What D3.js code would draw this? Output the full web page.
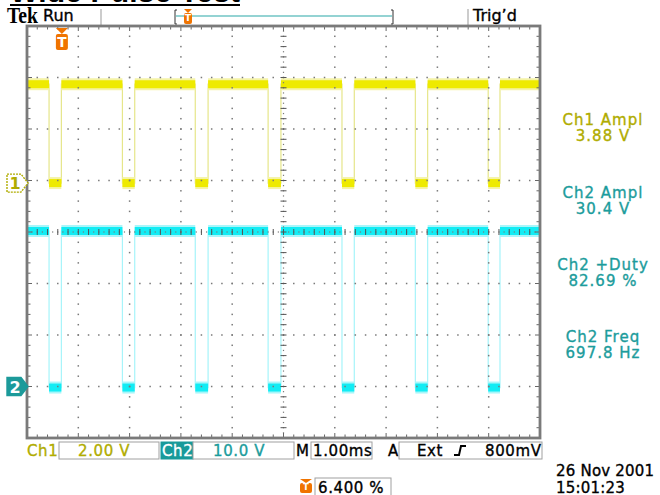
<!DOCTYPE html>
<html>
<head>
<meta charset="utf-8">
<script src="https://cdn.jsdelivr.net/npm/d3@7"></script>
<style>
	html, body { margin: 0; padding: 0; background: #fff; }
	svg { display: block; font-family: "DejaVu Sans", Verdana, sans-serif; }
	.heavy { stroke-width: 0.35px; paint-order: stroke; }
</style>
</head>
<body>
<svg id="scope" width="660" height="495"></svg>
<script>
// edge times in divisions (1.00 ms/div)
var fallTimes = [0.43, 1.86, 3.28, 4.70, 6.14, 7.57, 8.99];
var riseTimes = [0.67, 2.10, 3.53, 4.95, 6.38, 7.81, 9.22];

// channel levels (volts), scale (V/div) and ground position (div)
var ch1Levels = [0, 3.84];
var ch2Levels = [-0.2, 30.2];
var chVoltsPerDiv = [2, 10];
var chPositions = [0.95, -3.0];
var triggerTime = 0.68;

var measLabels = ["Ch1 Ampl", "Ch2 Ampl", "Ch2 +Duty", "Ch2 Freq"];
var measValues = ["3.88 V", "30.4 V", "82.69 %", "697.8 Hz"];
var measChannel = [1, 2, 2, 2];

var C1 = "#eeea00", C1_EDGE = "#e6e68a", C1_FUZZ = "#f5f3a6", C1_TEXT = "#b0ac00";
var C2 = "#12ecf4", C2_EDGE = "#a6f4fa", C2_FUZZ = "#a8f6fa", C2_TEXT = "#1c9c9c";
var ORANGE = "#f07400", GRID = "#7a7a7a";

var svg = d3.select("#scope");

var x = d3.scaleLinear().domain([0, 10]).range([27, 540]);
var y = d3.scaleLinear().domain([-4, 4]).range([438, 26]);

// text helper, with a thin stroke of the same colour so it reads as heavy as the screen font
function txt(parent, x0, y0, s, col, size) {
	return parent.append("text").attr("class", "heavy")
		.attr("x", x0).attr("y", y0)
		.attr("fill", col || "#000").attr("stroke", col || "#000")
		.style("font-size", (size || 15) + "px")
		.text(s);
}

// title, clipped by the top of the picture
svg.append("text")
	.attr("x", 10).attr("y", 2)
	.attr("textLength", 230)
	.style("font-family", "'Liberation Sans', Arial, sans-serif")
	.style("font-weight", "bold").style("font-size", "30px")
	.text("Wide Pulse Test");
svg.append("rect").attr("x", 10).attr("y", 4).attr("width", 230).attr("height", 2).attr("fill", "#000");

// header
svg.append("text").attr("x", 7).attr("y", 23).attr("textLength", 31).attr("lengthAdjust", "spacingAndGlyphs")
	.style("font-family", "'Liberation Serif', serif").style("font-weight", "bold").style("font-size", "23px")
	.text("Tek");
txt(svg, 43, 21, "Run", null, 16);
svg.append("line").attr("x1", 101).attr("x2", 101).attr("y1", 9).attr("y2", 25).attr("stroke", "#999");
svg.append("line").attr("x1", 468).attr("x2", 468).attr("y1", 9).attr("y2", 25).attr("stroke", "#999");
txt(svg, 473, 21, "Trig’d", null, 16);

// record view bracket
svg.append("line").attr("x1", 176).attr("x2", 392).attr("y1", 16).attr("y2", 16).attr("stroke", "#2aa8a8").attr("stroke-width", 1.2);
svg.append("path").attr("d", "M177,10 H175 V24 H177").attr("fill", "none").attr("stroke", "#333");
svg.append("path").attr("d", "M391,10 H393 V24 H391").attr("fill", "none").attr("stroke", "#333");
drawTriggerFlag(svg, 188, 9, 8, 15);

// traces
function levelY(v, ch) {
	return y(v / chVoltsPerDiv[ch] + chPositions[ch]);
}

function drawTrace(levels, ch, core, fuzz, edge) {
	var g = svg.append("g");
	var lo = levels[0], hi = levels[1];
	var pts = [[0, hi]];
	fallTimes.forEach(function(f, i) {
		pts.push([f, hi], [f, lo], [riseTimes[i], lo], [riseTimes[i], hi]);
	});
	pts.push([10, hi]);

	var line = d3.line()
		.x(function(d) { return x(d[0]); })
		.y(function(d) { return levelY(d[1], ch); });

	g.append("path").attr("d", line(pts))
		.attr("fill", "none").attr("stroke", edge).attr("stroke-width", 1.2);

	var segs = [];
	var starts = [0].concat(riseTimes), ends = fallTimes.concat([10]);
	starts.forEach(function(s, i) { segs.push([s, ends[i], hi]); });
	fallTimes.forEach(function(f, i) { segs.push([f, riseTimes[i], lo]); });

	[[fuzz, 12], [core, 8]].forEach(function(st) {
		g.selectAll(null).data(segs).enter().append("line")
			.attr("x1", function(d) { return x(d[0]); })
			.attr("x2", function(d) { return x(d[1]); })
			.attr("y1", function(d) { return levelY(d[2], ch); })
			.attr("y2", function(d) { return levelY(d[2], ch); })
			.attr("stroke", st[0]).attr("stroke-width", st[1]);
	});
}

drawTrace(ch1Levels, 0, C1, C1_FUZZ, C1_EDGE);
drawTrace(ch2Levels, 1, C2, C2_FUZZ, C2_EDGE);

// graticule
var grid = svg.append("g");
var fine = d3.range(0, 10.001, 0.2);
var fineV = d3.range(-4, 4.001, 0.2);

d3.range(1, 10).filter(function(d) { return d !== 5; }).forEach(function(d) {
	grid.selectAll(null).data(fineV).enter().append("rect")
		.attr("x", x(d) - 0.75).attr("y", function(v) { return y(v) - 0.75; })
		.attr("width", 1.5).attr("height", 1.5).attr("fill", GRID);
});
d3.range(-3, 4).filter(function(d) { return d !== 0; }).forEach(function(d) {
	grid.selectAll(null).data(fine).enter().append("rect")
		.attr("x", function(v) { return x(v) - 0.75; }).attr("y", y(d) - 0.75)
		.attr("width", 1.5).attr("height", 1.5).attr("fill", GRID);
});

// center cross with minor ticks
grid.selectAll(null).data(d3.range(0, 10.001, 0.1)).enter().append("rect")
	.attr("x", function(v) { return x(v) - 0.6; }).attr("y", y(0) - 0.6)
	.attr("width", 1.2).attr("height", 1.2).attr("fill", GRID);
grid.selectAll(null).data(d3.range(-4, 4.001, 0.1)).enter().append("rect")
	.attr("x", x(5) - 0.6).attr("y", function(v) { return y(v) - 0.6; })
	.attr("width", 1.2).attr("height", 1.2).attr("fill", GRID);
grid.selectAll(null).data(fine).enter().append("line")
	.attr("x1", function(v) { return x(v); }).attr("x2", function(v) { return x(v); })
	.attr("y1", y(0) - 3).attr("y2", y(0) + 3).attr("stroke", "#555");
grid.selectAll(null).data(fineV).enter().append("line")
	.attr("y1", function(v) { return y(v); }).attr("y2", function(v) { return y(v); })
	.attr("x1", x(5) - 3).attr("x2", x(5) + 3).attr("stroke", "#555");

// border ticks
[[y(4), 1], [y(-4), -1]].forEach(function(b) {
	grid.selectAll(null).data(fine).enter().append("line")
		.attr("x1", function(v) { return x(v); }).attr("x2", function(v) { return x(v); })
		.attr("y1", b[0]).attr("y2", function(v) { return b[0] + b[1] * (Math.abs(v - Math.round(v)) < 0.01 ? 5 : 3.5); })
		.attr("stroke", "#666");
});
[[x(0), 1], [x(10), -1]].forEach(function(b) {
	grid.selectAll(null).data(fineV).enter().append("line")
		.attr("y1", function(v) { return y(v); }).attr("y2", function(v) { return y(v); })
		.attr("x1", b[0]).attr("x2", function(v) { return b[0] + b[1] * (Math.abs(v - Math.round(v)) < 0.01 ? 5 : 3.5); })
		.attr("stroke", "#666");
});
grid.append("rect")
	.attr("x", x(0)).attr("y", y(4)).attr("width", x(10) - x(0)).attr("height", y(-4) - y(4))
	.attr("fill", "none").attr("stroke", "#7a7a7a").attr("stroke-width", 2.8);

// trigger position flag inside graticule
drawTriggerFlag(svg, x(triggerTime), 28, 12, 22);

function drawTriggerFlag(parent, cx, top, w, h) {
	var g = parent.append("g");
	var tri = Math.round(h * 0.25);
	g.append("path")
		.attr("d", "M" + (cx - w / 2) + "," + top + " L" + (cx + w / 2) + "," + top + " L" + cx + "," + (top + tri) + " Z")
		.attr("fill", ORANGE);
	g.append("rect").attr("x", cx - w / 2).attr("y", top + tri).attr("width", w).attr("height", h - tri)
		.attr("rx", 2).attr("fill", ORANGE);
	g.append("text").attr("x", cx).attr("y", top + h - 3).attr("text-anchor", "middle")
		.attr("fill", "#fff").style("font-weight", "bold").style("font-size", (h - tri) * 0.85 + "px")
		.text("T");
}

// channel ground markers
function groundMarker(ch, label, fill, stroke, textFill) {
	var cy = y(chPositions[ch]);
	var g = svg.append("g");
	g.append("path")
		.attr("d", "M7," + (cy - 9) + " H21 L28," + cy + " L21," + (cy + 9) + " H7 Z")
		.attr("fill", fill).attr("stroke", stroke).attr("stroke-width", 1.4)
		.attr("stroke-dasharray", fill === "#fff" ? "2,1" : null);
	g.append("text").attr("x", 15).attr("y", cy + 6).attr("text-anchor", "middle")
		.attr("fill", textFill).style("font-size", "16px").style("font-weight", "bold").text(label);
}
groundMarker(0, "1", "#fff", C1_TEXT, C1_TEXT);
groundMarker(1, "2", "#1c9a9a", "#1c9a9a", "#fff");

// measurement readouts
var meas = svg.append("g").attr("text-anchor", "middle").style("letter-spacing", "1px");
var measTops = [125, 198, 270, 342];
measLabels.forEach(function(lbl, i) {
	var col = measChannel[i] === 1 ? C1_TEXT : C2_TEXT;
	txt(meas, 603, measTops[i], lbl, col);
	txt(meas, 603, measTops[i] + 16, measValues[i], col);
});

// bottom status bar
var bar = svg.append("g").style("letter-spacing", "0.6px");
function box(x0, x1, fill) {
	bar.append("rect").attr("x", x0).attr("y", 442).attr("width", x1 - x0).attr("height", 17)
		.attr("fill", fill || "#fff").attr("stroke", fill || "#a0a0a0");
}
function label(x0, s, col) {
	txt(bar, x0, 456, s, col);
}
label(27, "Ch1", C1_TEXT);
box(59, 159); label(78, "2.00 V", C1_TEXT);
box(161, 193, "#189a9a"); label(162, "Ch2", "#fff");
box(193, 294); label(213, "10.0 V", C2_TEXT);
label(296, "M");
box(311, 372); label(313, "1.00ms");
label(388, "A");
box(399, 542); label(417, "Ext"); label(485, "800mV");
bar.append("path").attr("d", "M454,455 H459 L461,446 H466")
	.attr("fill", "none").attr("stroke", "#000").attr("stroke-width", 2);

// trigger position readout and date
drawTriggerFlag(svg, 306, 479, 12, 14);
svg.append("rect").attr("x", 315).attr("y", 478).attr("width", 76).attr("height", 20)
	.attr("fill", "#fff").attr("stroke", "#a0a0a0");
txt(svg, 318, 493, "6.400 %").style("letter-spacing", "0.6px");
txt(svg, 556, 476, "26 Nov 2001").style("letter-spacing", "0.2px");
txt(svg, 556, 493, "15:01:23").style("letter-spacing", "0.2px");
</script>
</body>
</html>
